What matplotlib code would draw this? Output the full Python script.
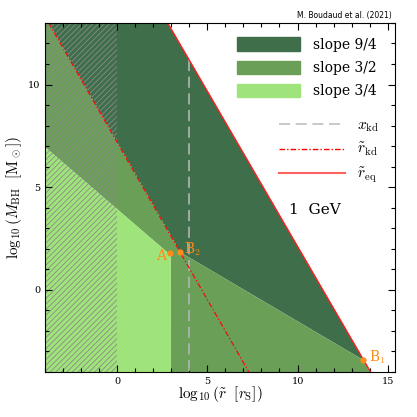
import numpy as np
import matplotlib.pyplot as plt
from matplotlib.patches import Patch
from matplotlib.lines import Line2D

plt.rcParams['font.family'] = ['DejaVu Serif']
plt.rcParams['mathtext.fontset'] = 'cm'
plt.rcParams['hatch.linewidth'] = 0.6
plt.rcParams['lines.scale_dashes'] = False

# lines (two points each)
kd_x = [-3.8, 7.3]      # r_kd line
kd_y = [13.0, -4.0]
eq_x = [2.8, 14.05]     # r_eq line
eq_y = [13.0, -4.0]
light_x = [-4.0, 2.95]  # top of the slope 3/4 region
light_y = [6.96, 1.7]
bd_x = [3.5, 13.65]     # border slope 9/4 / slope 3/2
bd_y = [1.84, -3.41]
x_light_end = 2.95
x_kd = 4.0
hatch_x = [-4.0, 0.0]

# points
pt_names = ['A', 'B$_2$', 'B$_1$']
pt_x = [2.95, 3.47, 13.65]
pt_y = [1.78, 1.84, -3.41]

xlim = (-4.0, 15.4)
ylim = (-4.0, 13.0)

c_dark = '#3f6e4b'
c_mid = '#6a9f58'
c_light = '#9fe47a'
c_pt = '#ff8c1a'


def line(px, py, x):
    return py[0] + (x - px[0]) * (py[1] - py[0]) / (px[1] - px[0])


x = np.linspace(xlim[0], xlim[1], 3000)
kd = line(kd_x, kd_y, x)
eq = line(eq_x, eq_y, x)
bd = line(bd_x, bd_y, x)
lt = line(light_x, light_y, x)
top = np.full_like(x, ylim[1])
bot = np.full_like(x, ylim[0])

fig = plt.figure(figsize=(4.17, 4.17), dpi=100)
ax = fig.add_axes([0.108, 0.108, 0.839, 0.837])

# slope 9/4
lo = np.maximum(kd, bd)
hi = np.minimum(eq, top)
ax.fill_between(x, lo, np.maximum(hi, lo), color=c_dark, lw=0)
# slope 3/2
lo2 = np.where(x < x_light_end, lt, bot)
hi2 = np.minimum(np.minimum(lo, eq), top)
ax.fill_between(x, lo2, np.maximum(hi2, lo2), color=c_mid, lw=0)
# slope 3/4
lo3 = bot
hi3 = np.where(x < x_light_end, lt, bot)
ax.fill_between(x, lo3, hi3, color=c_light, lw=0)

# hatched strip
ax.fill_between(hatch_x, [ylim[0]] * 2, [ylim[1]] * 2, facecolor='none',
                edgecolor='#8a8a8a', hatch='//////', lw=0)

# lines
ax.plot([x_kd, x_kd], [line(eq_x, eq_y, x_kd), ylim[0]], color='#b4b4b4',
        lw=1.2, dashes=(8, 4))
ax.plot(kd_x, kd_y, color='red', lw=0.8, dashes=(4, 1.5, 1, 1.5))
ax.plot(eq_x, eq_y, color='#ff2020', lw=1.0)

# points
ax.plot(pt_x, pt_y, 'o', color=c_pt, ms=3.5, zorder=5)
ax.annotate(pt_names[0], (pt_x[0], pt_y[0]), xytext=(-3, -2), textcoords='offset points',
            ha='right', va='center', color=c_pt, fontsize=10)
ax.annotate(pt_names[1], (pt_x[1], pt_y[1]), xytext=(3, 2), textcoords='offset points',
            ha='left', va='center', color=c_pt, fontsize=10)
ax.annotate(pt_names[2], (pt_x[2], pt_y[2]), xytext=(4, 2), textcoords='offset points',
            ha='left', va='center', color=c_pt, fontsize=10)

ax.text(10.97, 3.9, '1  GeV', ha='center', va='center', fontsize=11)
fig.text(0.94, 0.962, 'M. Boudaud et al. (2021)', ha='right', va='center',
         fontsize=5.5, family='DejaVu Sans')

ax.set_xlim(*xlim)
ax.set_ylim(*ylim)
ax.set_xticks([0, 5, 10, 15])
ax.set_yticks([0, 5, 10])
ax.set_xticks(np.arange(-4, 16), minor=True)
ax.set_yticks(np.arange(-4, 14), minor=True)
ax.tick_params(which='both', direction='in', top=True, right=True, labelsize=7, width=0.8)
ax.tick_params(which='major', length=5)
ax.tick_params(which='minor', length=3)
for s in ax.spines.values():
    s.set_linewidth(0.8)
ax.set_xlabel(r'$\log_{10}(\tilde{r}\ \ [r_{\rm S}])$', fontsize=11, labelpad=-1)
ax.set_ylabel(r'$\log_{10}(M_{\rm BH}\ \ [{\rm M}_\odot])$', fontsize=11, labelpad=3)

leg1 = ax.legend(handles=[Patch(color=c_dark, label='slope 9/4'),
                          Patch(color=c_mid, label='slope 3/2'),
                          Patch(color=c_light, label='slope 3/4')],
                 loc='upper right', bbox_to_anchor=(0.985, 0.995), frameon=False,
                 fontsize=10, handlelength=4.5, handleheight=1.1, labelspacing=0.65,
                 handletextpad=1.0)
ax.add_artist(leg1)
ax.legend(handles=[Line2D([], [], color='#c0c0c0', lw=1.2, dashes=(8, 4), label=r'$x_{\rm kd}$'),
                   Line2D([], [], color='red', lw=1.0, dashes=(4, 1.5, 1, 1.5), label=r'$\tilde{r}_{\rm kd}$'),
                   Line2D([], [], color='#ff6060', lw=1.5, label=r'$\tilde{r}_{\rm eq}$')],
          loc='upper right', bbox_to_anchor=(0.995, 0.765), frameon=False,
          fontsize=11, handlelength=4.3, labelspacing=0.45, handletextpad=0.8)

fig.savefig('out.png', dpi=100)
